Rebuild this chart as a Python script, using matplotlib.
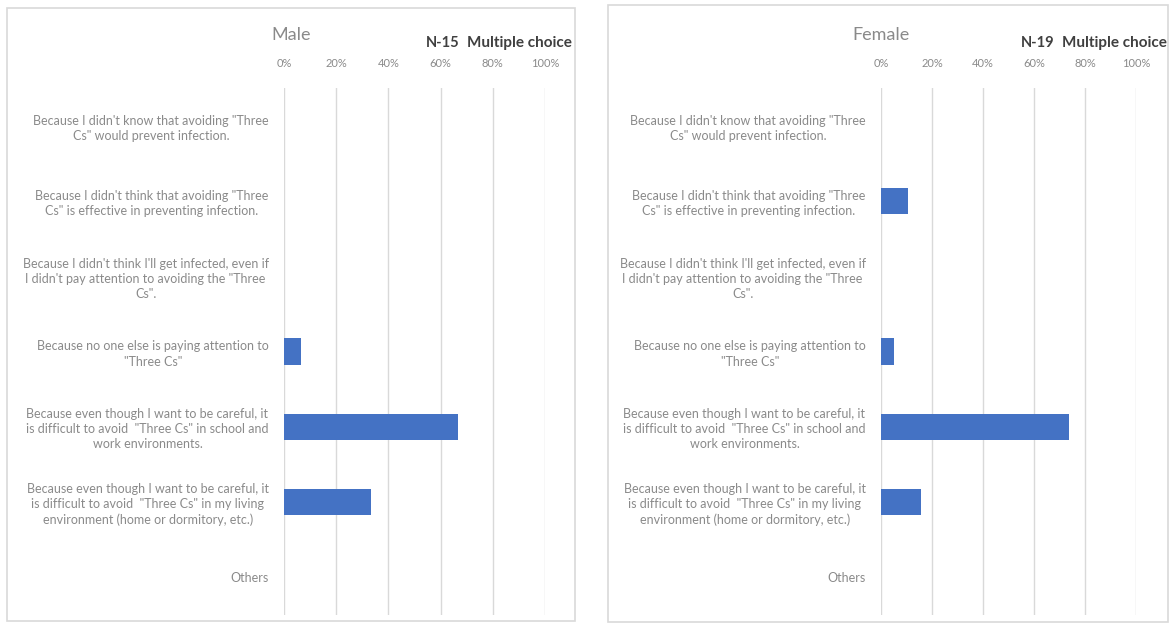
import matplotlib.pyplot as plt
from matplotlib.patches import Rectangle
from matplotlib.transforms import Bbox, TransformedBbox
import numpy as np

plt.rcParams['font.family'] = ['Lato', 'DejaVu Sans']

# reasons (top to bottom)
reasons = [
    'Because I didn\'t know that avoiding "Three\nCs" would prevent infection.',
    'Because I didn\'t think that avoiding "Three\nCs" is effective in preventing infection.',
    'Because I didn\'t think I\'ll get infected, even if\nI didn\'t pay attention to avoiding the "Three\nCs".',
    'Because no one else is paying attention to\n"Three Cs"',
    'Because even though I want to be careful, it\nis difficult to avoid  "Three Cs" in school and\nwork environments.',
    'Because even though I want to be careful, it\nis difficult to avoid  "Three Cs" in my living\nenvironment (home or dormitory, etc.)',
    'Others',
]
male_share = [0.0, 0.0, 0.0, 1 / 15, 10 / 15, 5 / 15, 0.0]
female_share = [0.0, 2 / 19, 0.0, 1 / 19, 14 / 19, 3 / 19, 0.0]
x_ticks = [0, 0.2, 0.4, 0.6, 0.8, 1.0]
x_ticklabels = ['0%', '20%', '40%', '60%', '80%', '100%']

W, H = 1171, 625
fig = plt.figure(figsize=(W / 100, H / 100), dpi=100)

bar_color = '#4472C4'
grid_color = '#d9d9d9'
text_color = '#8a8a8a'


def px_box(x0, y0, x1, y1):
    # pixel box (top-left origin) -> figure fraction [l, b, w, h]
    return [x0 / W, 1 - y1 / H, (x1 - x0) / W, (y1 - y0) / H]


panels = [
    dict(title='Male', n='N-15', data=male_share, frame=(7, 8, 575, 621),
         axes=(284, 88, 545, 615), title_x=291, n_x=426, mc_x=467),
    dict(title='Female', n='N-19', data=female_share, frame=(608, 5, 1168, 622),
         axes=(881, 88, 1136, 615), title_x=881, n_x=1021, mc_x=1062),
]

for p in panels:
    fx0, fy0, fx1, fy1 = p['frame']
    frame = Rectangle((fx0 / W, 1 - fy1 / H), (fx1 - fx0) / W, (fy1 - fy0) / H,
                      transform=fig.transFigure, facecolor='white',
                      edgecolor=grid_color, linewidth=1.2, zorder=0)
    fig.add_artist(frame)

    ax = fig.add_axes(px_box(*p['axes']))
    y = np.arange(len(reasons))
    ax.barh(y, p['data'], height=0.35, color=bar_color, zorder=3)
    ax.set_xlim(0, 1.0)
    ax.set_ylim(len(reasons) - 0.5, -0.5)
    ax.set_facecolor('none')
    for s in ax.spines.values():
        s.set_visible(False)
    ax.xaxis.tick_top()
    ax.set_xticks(x_ticks)
    ax.set_xticklabels(x_ticklabels, fontsize=8, color=text_color)
    ax.set_yticks(y)
    ax.set_yticklabels(reasons, fontsize=9, color=text_color, ma='center',
                       linespacing=1.3)
    ax.tick_params(axis='both', length=0)
    ax.tick_params(axis='x', pad=14)
    ax.tick_params(axis='y', pad=11)
    ax.xaxis.grid(True, color=grid_color, linewidth=1)
    ax.set_axisbelow(True)

    fig.text(p['title_x'] / W, 1 - 35 / H, p['title'], fontsize=13,
             color=text_color, ha='center', va='center')
    fig.text(p['n_x'] / W, 1 - 43 / H, p['n'], fontsize=10.5, fontweight='bold',
             color='#404040', ha='left', va='center')
    # header runs past the panel edge and is cut off there, as in the original
    mc = fig.text(p['mc_x'] / W, 1 - 43 / H, 'Multiple choice', fontsize=11,
                  fontweight='bold', color='#404040', ha='left', va='center')
    clip = TransformedBbox(Bbox.from_extents(0, 1 - fy1 / H, (fx1 - 1) / W, 1),
                           fig.transFigure)
    mc.set_clip_box(clip)
    mc.set_clip_on(True)

fig.savefig('out.png', dpi=100, facecolor='white')
